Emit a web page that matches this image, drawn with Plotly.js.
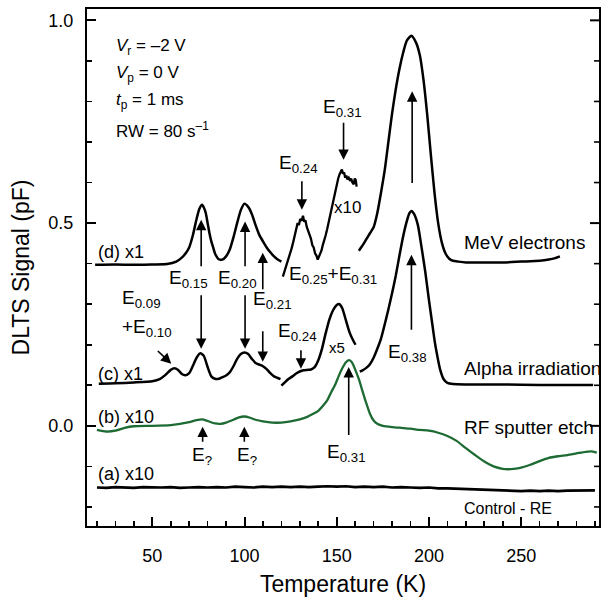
<!DOCTYPE html>
<html>
<head>
<meta charset="utf-8">
<script src="https://cdn.plot.ly/plotly-3.0.1.min.js"></script>
<style>html,body{margin:0;padding:0;background:#fff;}#chart{width:605px;height:597px;}</style>
</head>
<body>
<div id="chart"></div>
<script>
// ---------- DATA ----------
// (d) MeV electrons, x1 segment
const T_d1 = [19, 30, 40, 50, 58, 63, 66, 68, 70, 72, 74, 75.5, 77, 78, 79, 80, 81, 82, 83, 84, 86, 88, 90, 92, 94, 96, 98, 100, 102, 104, 106, 108, 110, 112, 114, 116, 118, 120];
const S_d1 = [0.397, 0.398, 0.397, 0.398, 0.399, 0.405, 0.415, 0.425, 0.44, 0.47, 0.51, 0.535, 0.545, 0.538, 0.525, 0.50, 0.475, 0.455, 0.44, 0.425, 0.411, 0.41, 0.418, 0.435, 0.465, 0.50, 0.532, 0.548, 0.54, 0.522, 0.495, 0.471, 0.455, 0.44, 0.428, 0.418, 0.41, 0.405];
// (d) MeV electrons, x10 segment (noisy)
const T_d2 = [120.8, 121.5, 122.5, 123.5, 124.5, 125.5, 126.5, 127.2, 128, 128.8, 129.5, 130.2, 131, 131.7, 132.4, 133, 133.8, 134.5, 135.3, 136, 136.8, 137.5, 138.3, 139, 139.7, 140.4, 141, 141.7, 142.4, 143.2, 144, 144.8, 145.5, 146.3, 147, 147.8, 148.5, 149.3, 150, 150.8, 151.5, 152.2, 152.8, 153.4, 154, 154.6, 155.2, 155.8, 156.5, 157.2, 157.8, 158.5, 159.2, 159.8, 160.3, 160.8];
const S_d2 = [0.368, 0.378, 0.392, 0.41, 0.42, 0.437, 0.455, 0.47, 0.488, 0.50, 0.495, 0.51, 0.506, 0.518, 0.503, 0.507, 0.49, 0.482, 0.468, 0.462, 0.445, 0.44, 0.425, 0.42, 0.41, 0.418, 0.428, 0.432, 0.445, 0.455, 0.47, 0.485, 0.50, 0.522, 0.535, 0.552, 0.565, 0.582, 0.598, 0.61, 0.62, 0.628, 0.632, 0.622, 0.625, 0.612, 0.617, 0.608, 0.612, 0.604, 0.61, 0.60, 0.596, 0.61, 0.606, 0.59];
// (d) MeV electrons, x1 main peak segment
const T_d3 = [162, 164, 166, 168, 170, 172, 174, 176, 178, 180, 182, 184, 186, 188, 190.5, 193, 195, 197, 199, 201, 203, 205, 207, 209, 211, 213, 216, 220, 230, 240, 250, 260, 265, 268, 271];
const S_d3 = [0.432, 0.445, 0.46, 0.475, 0.49, 0.525, 0.575, 0.63, 0.70, 0.77, 0.83, 0.88, 0.92, 0.95, 0.962, 0.945, 0.915, 0.855, 0.77, 0.67, 0.575, 0.50, 0.452, 0.425, 0.412, 0.407, 0.405, 0.403, 0.403, 0.403, 0.405, 0.407, 0.41, 0.413, 0.418];
// (c) Alpha irradiation, x1 segment
const T_c1 = [21, 30, 40, 50, 54, 57, 60, 62, 64, 66, 68, 70, 72, 74, 76, 78, 80, 82, 84, 86, 88, 90, 92, 94, 96, 98, 100, 102, 104, 106, 108, 110, 112, 114, 116, 118, 119.5];
const S_c1 = [0.104, 0.105, 0.107, 0.11, 0.115, 0.125, 0.138, 0.142, 0.138, 0.128, 0.125, 0.13, 0.148, 0.168, 0.179, 0.172, 0.145, 0.122, 0.116, 0.116, 0.12, 0.124, 0.132, 0.147, 0.165, 0.177, 0.181, 0.177, 0.165, 0.155, 0.151, 0.147, 0.14, 0.13, 0.122, 0.118, 0.115];
// (c) Alpha irradiation, x5 segment
const T_c2 = [120, 122, 124, 126, 128, 130, 132, 134, 136, 138, 140, 142, 144, 146, 148, 150, 151.5, 153, 155, 157, 159, 160.2];
const S_c2 = [0.099, 0.108, 0.116, 0.122, 0.129, 0.134, 0.137, 0.138, 0.139, 0.145, 0.162, 0.19, 0.228, 0.262, 0.285, 0.298, 0.30, 0.29, 0.26, 0.23, 0.21, 0.20];
// (c) Alpha irradiation, x1 main peak segment
const T_c3 = [162.5, 164, 166, 168, 170, 172, 174, 176, 178, 180, 182, 184, 186, 188, 189.5, 190.5, 192, 194, 196, 198, 200, 202, 203, 204, 206, 208, 210, 213, 220, 240, 260, 280, 289];
const S_c3 = [0.134, 0.137, 0.143, 0.152, 0.168, 0.19, 0.215, 0.25, 0.287, 0.327, 0.37, 0.42, 0.467, 0.505, 0.525, 0.53, 0.522, 0.495, 0.44, 0.38, 0.31, 0.245, 0.212, 0.185, 0.14, 0.115, 0.106, 0.103, 0.102, 0.102, 0.101, 0.101, 0.101];
// (b) RF sputter etch, x10
const T_b = [20, 25, 30, 35, 40, 50, 60, 65, 70, 74, 77, 80, 84, 87, 90, 94, 97, 100, 103, 106, 110, 115, 120, 125, 130, 134, 137, 140, 143, 145, 147, 149, 151, 153, 155, 156.7, 158, 159, 160.5, 162, 164, 166, 168, 170, 172, 175, 180, 185, 190, 195, 200, 205, 210, 215, 220, 225, 230, 235, 240, 243, 246, 250, 255, 260, 265, 270, 275, 280, 285, 288, 291];
const S_b = [-0.01, -0.014, -0.012, -0.005, -0.001, 0.0, 0.002, 0.005, 0.009, 0.014, 0.016, 0.012, 0.006, 0.005, 0.008, 0.015, 0.021, 0.023, 0.02, 0.015, 0.011, 0.008, 0.008, 0.011, 0.016, 0.022, 0.029, 0.037, 0.052, 0.064, 0.083, 0.10, 0.122, 0.142, 0.157, 0.162, 0.158, 0.15, 0.133, 0.115, 0.085, 0.056, 0.03, 0.013, 0.005, 0.0, -0.003, -0.005, -0.007, -0.01, -0.012, -0.017, -0.025, -0.037, -0.055, -0.072, -0.088, -0.10, -0.106, -0.107, -0.106, -0.103, -0.096, -0.087, -0.079, -0.075, -0.072, -0.068, -0.064, -0.063, -0.066];
// (a) Control - RE, x10
const T_a = [20, 25, 30, 35, 40, 45, 50, 55, 60, 65, 70, 75, 80, 85, 90, 95, 100, 105, 110, 115, 120, 125, 130, 135, 140, 145, 150, 155, 160, 165, 170, 175, 180, 185, 190, 195, 200, 205, 210, 215, 220, 225, 230, 235, 240, 245, 250, 255, 260, 265, 270, 275, 280, 285, 290];
const S_a = [-0.152, -0.153, -0.151, -0.152, -0.153, -0.151, -0.152, -0.152, -0.151, -0.153, -0.152, -0.151, -0.152, -0.151, -0.152, -0.150, -0.151, -0.152, -0.150, -0.151, -0.150, -0.151, -0.150, -0.151, -0.150, -0.149, -0.150, -0.149, -0.151, -0.150, -0.151, -0.150, -0.152, -0.151, -0.152, -0.153, -0.152, -0.154, -0.154, -0.155, -0.156, -0.156, -0.157, -0.158, -0.159, -0.160, -0.161, -0.160, -0.161, -0.160, -0.161, -0.160, -0.160, -0.160, -0.159];
// y tick values that are mirrored on the right-hand frame
const Y_TICKS_RIGHT = [-0.2, -0.1, 0.0, 0.1, 0.2, 0.3, 0.4, 0.5, 0.6, 0.7, 0.8, 0.9, 1.0];

// ---------- STYLE ----------
const FONT = 'Liberation Sans, Arial, Helvetica, sans-serif';
const BLACK = '#000000';
const GREEN = '#1d6b33';
const X_RANGE = [14.6, 292.2];
const Y_RANGE = [-0.247, 1.028];
const MARGIN = {l: 87, r: 6, t: 9, b: 71, pad: 0};
const PLOT_W = 605 - MARGIN.l - MARGIN.r;
const MAJOR_LEN = 9, MINOR_LEN = 5;

function line(x, y, color, width, shape) {
  return {x: x, y: y, type: 'scatter', mode: 'lines', hoverinfo: 'skip',
          line: {color: color, width: width, shape: shape || 'spline', smoothing: 0.6}};
}
const traces = [
  line(T_a, S_a, BLACK, 2.7, 'linear'),
  line(T_b, S_b, GREEN, 2.3),
  line(T_c1, S_c1, BLACK, 2.5),
  line(T_c2, S_c2, BLACK, 2.5),
  line(T_c3, S_c3, BLACK, 2.5),
  line(T_d1, S_d1, BLACK, 2.5),
  line(T_d2, S_d2, BLACK, 2.3, 'linear'),
  line(T_d3, S_d3, BLACK, 2.5)
];

// right-hand frame ticks (inside)
const shapes = Y_TICKS_RIGHT.map(function (v) {
  const major = Math.abs(v * 2 - Math.round(v * 2)) < 1e-6;
  const len = major ? MAJOR_LEN : MINOR_LEN;
  return {type: 'line', xref: 'paper', yref: 'y', x0: 1, x1: 1 - len / PLOT_W, y0: v, y1: v,
          line: {color: BLACK, width: major ? 2 : 1.6}};
});

// ---------- ANNOTATIONS ----------
const ann = [];
function txt(x, y, text, size, xa) {
  ann.push({x: x, y: y, xref: 'x', yref: 'y', text: text, showarrow: false,
            xanchor: xa || 'left', yanchor: 'middle',
            font: {family: FONT, size: size, color: BLACK}});
}
function arrow(x, y, ax, ay) {
  ann.push({x: x, y: y, ax: ax, ay: ay, xref: 'x', yref: 'y', axref: 'x', ayref: 'y',
            text: '', showarrow: true, arrowhead: 2, arrowsize: 1.3, arrowwidth: 1.6,
            arrowcolor: BLACK, standoff: 0, startstandoff: 0});
}
// top-left parameter block
txt(29.1, 0.935, '<i>V</i><sub>r</sub> = \u20132 V', 17);
txt(29.1, 0.868, '<i>V</i><sub>p</sub> = 0 V', 17);
txt(29.1, 0.802, '<i>t</i><sub>p</sub> = 1 ms', 17);
txt(29.1, 0.730, 'RW = 80 s<sup>\u20131</sup>', 17);
// curve labels
txt(19.5, 0.428, '(d) x1', 18);
txt(19.5, 0.129, '(c) x1', 18);
txt(19.5, 0.021, '(b) x10', 18);
txt(19.5, -0.118, '(a) x10', 18);
txt(218, 0.451, 'MeV electrons', 19);
txt(218, 0.141, 'Alpha irradiation', 19);
txt(218, -0.003, 'RF sputter etch', 19);
txt(218, -0.205, 'Control - RE', 16);
txt(156, 0.538, 'x10', 17, 'center');
txt(150, 0.194, 'x5', 15, 'center');
// E labels
const EF = 19;
txt(141.5, 0.785, 'E<sub>0.31</sub>', EF);
txt(117.8, 0.646, 'E<sub>0.24</sub>', EF);
txt(123.2, 0.373, 'E<sub>0.25</sub>+E<sub>0.31</sub>', EF);
txt(58.0, 0.362, 'E<sub>0.15</sub>', EF);
txt(84.3, 0.362, 'E<sub>0.20</sub>', EF);
txt(103.3, 0.311, 'E<sub>0.21</sub>', EF);
txt(32.6, 0.313, 'E<sub>0.09</sub>', EF);
txt(32.6, 0.241, '+E<sub>0.10</sub>', EF);
txt(117.0, 0.232, 'E<sub>0.24</sub>', EF);
txt(176.7, 0.180, 'E<sub>0.38</sub>', EF);
txt(143.9, -0.067, 'E<sub>0.31</sub>', EF);
txt(70.6, -0.075, 'E<sub>?</sub>', EF);
txt(94.6, -0.075, 'E<sub>?</sub>', EF);
// arrows (tip x, tip y, tail x, tail y)
arrow(153.7, 0.656, 153.7, 0.751);
arrow(131.1, 0.533, 131.1, 0.607);
arrow(190.9, 0.825, 190.9, 0.595);
arrow(190.5, 0.422, 190.5, 0.233);
arrow(76.5, 0.508, 76.5, 0.39);
arrow(76.5, 0.19, 76.5, 0.326);
arrow(100.3, 0.504, 100.3, 0.39);
arrow(100.3, 0.19, 100.3, 0.326);
arrow(109.9, 0.427, 109.9, 0.333);
arrow(109.9, 0.158, 109.9, 0.237);
arrow(60.3, 0.153, 52.2, 0.188);
arrow(130.6, 0.141, 130.6, 0.19);
arrow(156.5, 0.145, 156.5, -0.026);
arrow(77.3, -0.002, 77.3, -0.043);
arrow(99.9, -0.002, 99.9, -0.043);

const layout = {
  width: 605, height: 597,
  margin: MARGIN,
  paper_bgcolor: '#ffffff', plot_bgcolor: '#ffffff',
  showlegend: false,
  font: {family: FONT, color: BLACK},
  xaxis: {
    range: X_RANGE, showgrid: false, zeroline: false,
    showline: true, linecolor: BLACK, linewidth: 2, mirror: true,
    ticks: 'inside', ticklen: MAJOR_LEN, tickwidth: 2, tickcolor: BLACK,
    tick0: 0, dtick: 50, ticklabelstandoff: 12,
    minor: {ticks: 'inside', ticklen: MINOR_LEN, tickwidth: 1.6, tickcolor: BLACK, tick0: 0, dtick: 10},
    tickfont: {family: FONT, size: 18, color: BLACK},
    title: {text: 'Temperature (K)', font: {family: FONT, size: 23, color: BLACK}, standoff: 14}
  },
  yaxis: {
    range: Y_RANGE, showgrid: false, zeroline: false,
    showline: true, linecolor: BLACK, linewidth: 2, mirror: true,
    ticks: 'inside', ticklen: MAJOR_LEN, tickwidth: 2, tickcolor: BLACK,
    tick0: 0, dtick: 0.5, tickformat: '.1f', ticklabelstandoff: 8,
    minor: {ticks: 'inside', ticklen: MINOR_LEN, tickwidth: 1.6, tickcolor: BLACK, tick0: 0, dtick: 0.1},
    tickfont: {family: FONT, size: 18, color: BLACK},
    title: {text: 'DLTS Signal (pF)', font: {family: FONT, size: 23, color: BLACK}, standoff: 12}
  },
  shapes: shapes,
  annotations: ann
};

Plotly.newPlot('chart', traces, layout, {displayModeBar: false, staticPlot: true});
</script>
</body>
</html>
